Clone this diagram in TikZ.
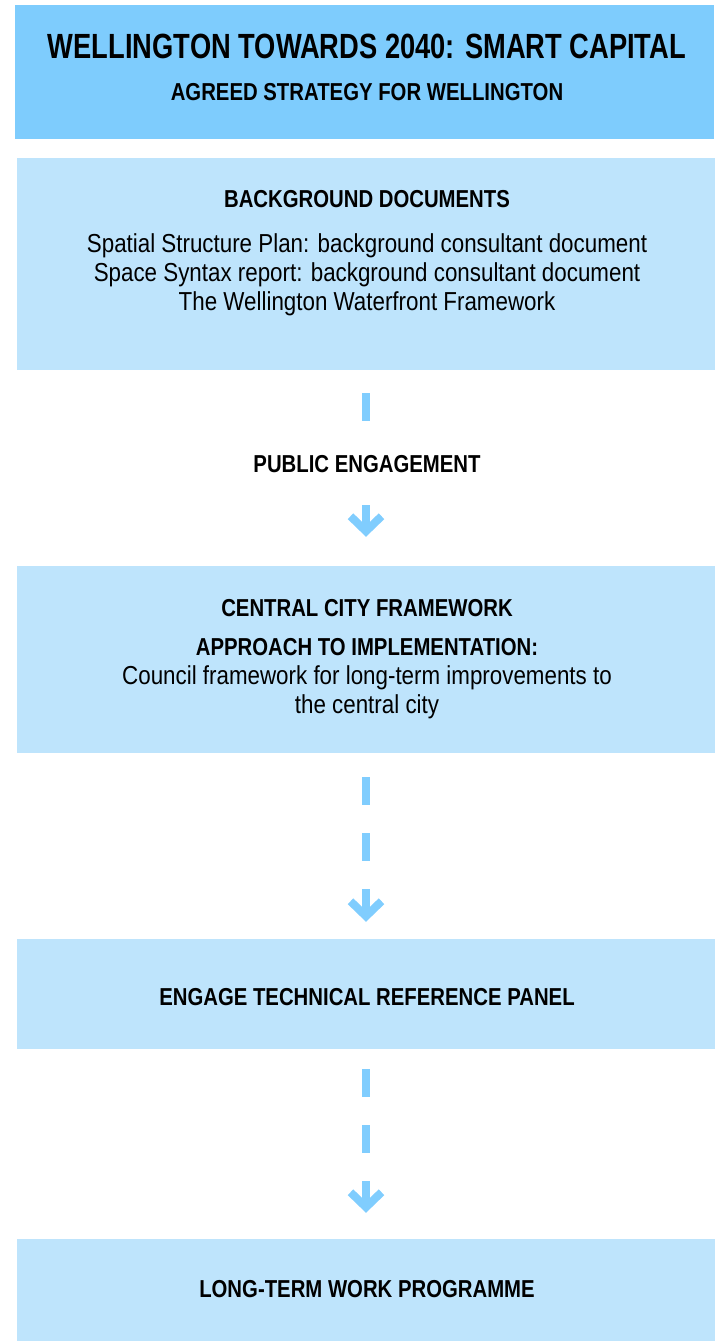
\documentclass[tikz,border=0pt]{standalone}
\usepackage{fontspec}
\setmainfont{Liberation Sans}
\newfontfamily\titlefont{Liberation Sans}[FakeStretch=0.78]
\newfontfamily\headfont{Liberation Sans}[FakeStretch=0.83]
\newfontfamily\bodyfont{Liberation Sans}[FakeStretch=0.86]
\usetikzlibrary{arrows.meta}
\definecolor{topblue}{HTML}{7ECCFD}
\definecolor{boxblue}{HTML}{BEE4FC}
\definecolor{arrowblue}{HTML}{80CDFE}
\begin{document}
\begin{tikzpicture}[x=1pt,y=1pt,
 boxshape/.style={rectangle, inner sep=0pt, draw=none, fill=boxblue, minimum width=698pt},
 titletext/.style={anchor=base, inner sep=0pt, font=\titlefont\bfseries\fontsize{35}{40}\selectfont},
 headtext/.style={anchor=base, inner sep=0pt, font=\headfont\bfseries\fontsize{24.5}{29}\selectfont},
 bodytext/.style={anchor=base, inner sep=0pt, font=\bodyfont\fontsize{26}{29}\selectfont},
 conn/.style={draw=arrowblue, line width=8pt, dash pattern=on 28pt off 28pt,
   -{Straight Barb[length=15pt, width=31pt, line join=miter, line cap=butt]}}
]
\useasboundingbox (0,0) rectangle (718,-1341);

% boxes
\node[boxshape, fill=topblue, minimum width=699pt, minimum height=134pt] (top) at (364.5,-72) {};
\node[boxshape, minimum height=212pt] (bg) at (366,-264) {};
\node[boxshape, minimum height=187pt] (ccf) at (366,-659.5) {};
\node[boxshape, minimum height=110pt] (trp) at (366,-994) {};
\node[boxshape, minimum height=102pt] (ltw) at (366,-1290) {};

% texts
\node[titletext] (t1) at (367,-58) {WELLINGTON TOWARDS 2040: SMART CAPITAL};
\node[headtext] (t2) at (367,-100) {AGREED STRATEGY FOR WELLINGTON};

\node[headtext] (b1) at (367,-207) {BACKGROUND DOCUMENTS};
\node[bodytext] (b2) at (367,-252) {Spatial Structure Plan: background consultant document};
\node[bodytext] (b3) at (367,-281) {Space Syntax report: background consultant document};
\node[bodytext] (b4) at (367,-310) {The Wellington Waterfront Framework};

\node[headtext] (c1) at (367,-616) {CENTRAL CITY FRAMEWORK};
\node[headtext] (c2) at (367,-655) {APPROACH TO IMPLEMENTATION:};
\node[bodytext] (c3) at (367,-684) {Council framework for long-term improvements to};
\node[bodytext] (c4) at (367,-713) {the central city};

\node[headtext] (e1) at (367,-1005) {ENGAGE TECHNICAL REFERENCE PANEL};
\node[headtext] (l1) at (367,-1297) {LONG-TERM WORK PROGRAMME};

% connectors
\draw[conn] ([yshift=-23pt]bg.south) -- ([yshift=29pt]ccf.north);
\node[headtext, fill=white, inner xsep=4pt, inner ysep=9pt] (pe) at (367,-472) {PUBLIC ENGAGEMENT};
\draw[conn] ([yshift=-24pt]ccf.south) -- ([yshift=17pt]trp.north);
\draw[conn] ([yshift=-20pt]trp.south) -- ([yshift=26pt]ltw.north);
\end{tikzpicture}
\end{document}
